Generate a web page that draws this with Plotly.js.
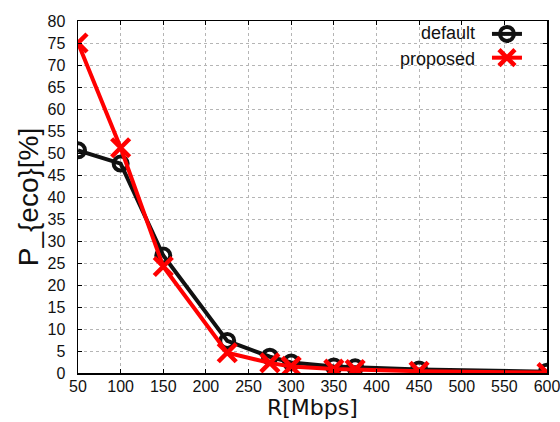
<!DOCTYPE html>
<html><head><meta charset="utf-8">
<script src="https://cdn.plot.ly/plotly-3.0.1.min.js"></script>
<style>body{margin:0;background:#fff}</style>
</head><body>
<div id="chart" style="width:560px;height:422px"></div>
<script>
const rates = [50, 100, 150, 225, 275, 300, 350, 375, 450, 600];
const defaultVals = [50.6, 47.6, 26.7, 7.3, 3.7, 2.4, 1.5, 1.3, 0.8, 0.3];
const proposedVals = [75.0, 51.2, 24.2, 4.6, 2.3, 1.5, 0.9, 0.8, 0.4, 0.1];
const seriesNames = ['default', 'proposed'];
const xTicks = [50,100,150,200,250,300,350,400,450,500,550,600];
const yTicks = [0,5,10,15,20,25,30,35,40,45,50,55,60,65,70,75,80];
const xTitle = 'R[Mbps]';
const yTitle = 'P_{eco}[%]';

const FONT = 'Liberation Sans, Arial, sans-serif';
const TFONT = 'DejaVu Sans, Liberation Sans, sans-serif';

const traces = [
  {x: rates, y: defaultVals, name: '', mode: 'lines+markers',
   line: {color: '#111', width: 4},
   marker: {symbol: 'circle-open', size: 14, color: '#111', line: {width: 4, color: '#111'}}},
  {x: rates, y: proposedVals, name: '', mode: 'lines+markers',
   line: {color: '#ff0000', width: 4},
   marker: {symbol: 'x-thin', size: 18, color: '#ff0000', line: {width: 4.5, color: '#ff0000'}}}
];

const axisCommon = {
  showline: true, linecolor: '#000', linewidth: 1.5, mirror: 'ticks',
  ticks: 'inside', ticklen: 4, tickcolor: '#000',
  showgrid: true, gridcolor: '#b5b5b5', griddash: 'dot', gridwidth: 1,
  zeroline: false, ticklabeloverflow: 'allow',
  tickfont: {family: FONT, size: 16, color: '#111'}
};

const layout = {
  width: 560, height: 422,
  margin: {l: 78, r: 13, t: 21, b: 49},
  paper_bgcolor: '#fff', plot_bgcolor: '#fff',
  showlegend: true,
  legend: {x: 0.872, y: 1.0114, xanchor: 'left', yanchor: 'top', bgcolor: 'rgba(0,0,0,0)',
           font: {family: FONT, size: 16, color: '#111'}, tracegroupgap: 0},
  annotations: [
    {xref: 'paper', yref: 'paper', x: 0.8507, y: 0.9659, xanchor: 'right', yanchor: 'middle',
     text: seriesNames[0], showarrow: false, font: {family: FONT, size: 18, color: '#111'}},
    {xref: 'paper', yref: 'paper', x: 0.8507, y: 0.892, xanchor: 'right', yanchor: 'middle',
     text: seriesNames[1], showarrow: false, font: {family: FONT, size: 18, color: '#111'}},
    {xref: 'paper', yref: 'paper', x: 0.5, y: -0.1364, xanchor: 'center', yanchor: 'bottom',
     borderpad: 0, text: xTitle, showarrow: false, font: {family: TFONT, size: 22, color: '#111'}}
  ],
  xaxis: Object.assign({}, axisCommon, {
    range: [50, 600], tickvals: xTicks, ticktext: xTicks.map(String), ticklabelstandoff: -2
  }),
  yaxis: Object.assign({}, axisCommon, {
    range: [0, 80], tickvals: yTicks, ticktext: yTicks.map(String), ticklabelstandoff: 8,
    title: {text: yTitle, standoff: 0, font: {family: FONT, size: 28, color: '#111'}}
  })
};

Plotly.newPlot('chart', traces, layout, {displayModeBar: false, staticPlot: true});
</script>
</body></html>
